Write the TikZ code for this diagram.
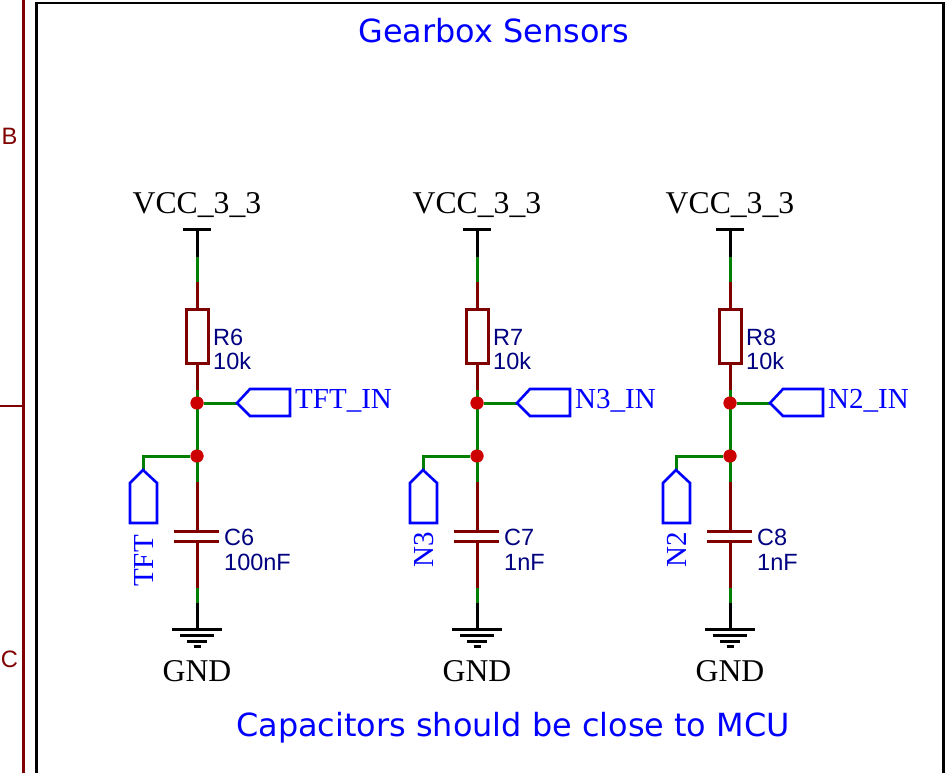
\documentclass[tikz,border=0pt]{standalone}
\usepackage{fontspec}
\setmainfont{Liberation Serif}
\newfontfamily\arialf{Liberation Sans}
\newfontfamily\verdf{DejaVu Sans}
\definecolor{wgreen}{RGB}{0,128,0}
\definecolor{pinred}{RGB}{128,0,0}
\definecolor{jred}{RGB}{204,0,0}
\definecolor{pblue}{RGB}{0,0,255}
\definecolor{dnavy}{RGB}{0,0,128}
\tikzset{
 wire/.style={draw=wgreen,line width=3pt},
 pinw/.style={draw=pinred,line width=3pt},
 blk/.style={draw=black,line width=3pt},
 portw/.style={draw=pblue,line width=2.6pt,line join=miter},
 junct/.style={circle,fill=jred,minimum size=13pt,inner sep=0pt},
 pwrlab/.style={font=\fontsize{31.7}{34}\selectfont,text=black,inner sep=0pt,anchor=base},
 netlab/.style={font=\fontsize{29}{31}\selectfont,text=pblue,inner sep=0pt,anchor=base west},
 deslab/.style={font=\arialf\fontsize{23.5}{25}\selectfont,text=dnavy,inner sep=0pt,anchor=base west},
 notelab/.style={font=\verdf\fontsize{31.9}{34}\selectfont,text=pblue,inner sep=0pt,anchor=base},
 zonelab/.style={font=\arialf\fontsize{23.7}{25}\selectfont,text=pinred,inner sep=0pt},
}
\newcommand{\sensorcol}[8]{%
 \begin{scope}[shift={(#1,0)}]
  \node[pwrlab] (vcc#2) at (0,213) {VCC\_3\_3};
  \coordinate (pt#2) at (0,229);
  \coordinate (pa#2) at (0,257);
  \coordinate (pb#2) at (0,282);
  \coordinate (rt#2) at (0,309);
  \coordinate (rb#2) at (0,363);
  \coordinate (wa#2) at (0,390);
  \node[junct] (j#2) at (0,403) {};
  \node[junct] (k#2) at (0,456) {};
  \coordinate (ca#2) at (0,482);
  \coordinate (cb#2) at (0,531);
  \coordinate (cc#2) at (0,541);
  \coordinate (cd#2) at (0,588);
  \coordinate (ce#2) at (0,603);
  \coordinate (g#2) at (0,629);
  \draw[blk] (-14,229) -- (14,229);
  \draw[blk] (pt#2) -- (pa#2);
  \draw[wire] (pa#2) -- (pb#2);
  \draw[pinw] (pb#2) -- (rt#2);
  \draw[pinw] (-11,309) rectangle (11,363);
  \draw[pinw] (rb#2) -- (wa#2);
  \draw[wire] (wa#2) -- (j#2.center) -- (k#2.center) -- (ca#2);
  \draw[pinw] (ca#2) -- (cb#2);
  \draw[pinw] (-23,531) -- (22,531);
  \draw[pinw] (-23,541) -- (22,541);
  \draw[pinw] (cc#2) -- (cd#2);
  \draw[wire] (cd#2) -- (ce#2);
  \draw[blk] (ce#2) -- (g#2);
  \draw[blk] (-25,629) -- (25,629);
  \draw[blk] (-17,635.5) -- (17,635.5);
  \draw[blk] (-10,641) -- (10,641);
  \draw[blk] (-3.5,646) -- (3.5,646);
  \node[junct] at (j#2) {};
  \node[junct] at (k#2) {};
  \node[pwrlab] (gnd#2) at (0,681) {GND};
  \coordinate (ptip#2) at (40,403);
  \draw[wire] (j#2) -- (ptip#2);
  \draw[portw] (ptip#2) -- (53,389) -- (93,389) -- (93,416) -- (53,416) -- cycle;
  \node[netlab] (inl#2) at (98,408) {#7};
  \coordinate (utip#2) at (-54,470);
  \draw[wire] (k#2) -| (utip#2);
  \draw[portw] (utip#2) -- (-67,483) -- (-67,523) -- (-40,523) -- (-40,483) -- cycle;
  \node[netlab,rotate=90] (outl#2) at (-44,#8) {#6};
  \node[deslab] (rn#2) at (16,345) {#3};
  \node[deslab] (rv#2) at (16,369) {10k};
  \node[deslab] (cn#2) at (27,545) {#4};
  \node[deslab] (cv#2) at (27,570) {#5};
 \end{scope}%
}
\begin{document}
\begin{tikzpicture}[x=1pt,y=-1pt]
 \useasboundingbox (0,0) rectangle (952,773);
 \fill[white] (0,0) rectangle (952,773);
 \draw[draw=pinred,line width=2.6pt] (23.5,0) -- (23.5,773);
 \draw[draw=pinred,line width=2pt] (0,406) -- (23.5,406);
 \draw[draw=black,line width=2.8pt] (36.5,773) -- (36.5,3) -- (943.5,3) -- (943.5,773);
 \node[zonelab] (zb) at (9.5,136) {B};
 \node[zonelab] (zc) at (9.5,659) {C};
 \node[notelab] (title) at (494,43) {Gearbox Sensors};
 \node[notelab] (note) at (513,736) {Capacitors should be close to MCU};
 \sensorcol{197}{a}{R6}{C6}{100nF}{TFT}{TFT\_IN}{587}
 \sensorcol{477}{b}{R7}{C7}{1nF}{N3}{N3\_IN}{568}
 \sensorcol{730}{c}{R8}{C8}{1nF}{N2}{N2\_IN}{568}
\end{tikzpicture}
\end{document}
